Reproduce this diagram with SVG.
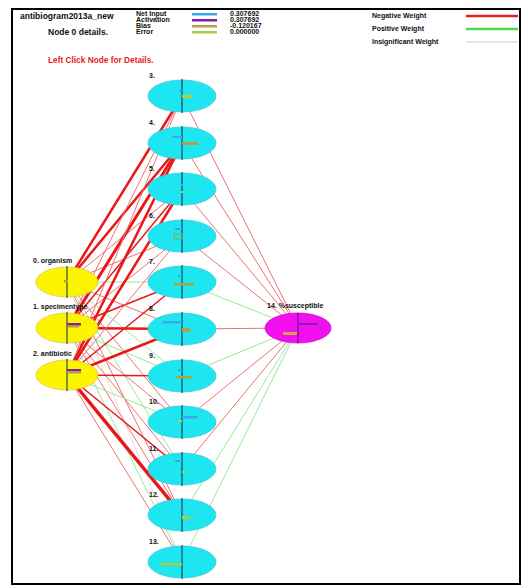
<svg xmlns="http://www.w3.org/2000/svg" width="524" height="587" viewBox="0 0 524 587">
<style>
text{font-family:"Liberation Sans",Arial,sans-serif;fill:#111}
.hd{font-size:8.5px;font-weight:bold}
.lb{font-size:7px;font-weight:bold}
.neg{stroke:#ee7070;stroke-width:1;fill:none}
.nk{stroke:#e81818;fill:none}
.pos{stroke:#9ae89a;stroke-width:1;fill:none}
.ins{stroke:#f2dcdc;stroke-width:1;fill:none}
.inp{fill:#fbf500;stroke:#e8c040;stroke-width:0.8}
.hid{fill:#1ee6f0;stroke:#40c8d8;stroke-width:0.8}
.out{fill:#f010f0;stroke:#d000d0;stroke-width:0.8}
.ax{stroke:#0a2a40;stroke-width:1}
.bN{fill:#3aa8e8}.bA{fill:#8a1ca8}.bB{fill:#b0a048}.bE{fill:#a8d040}
</style>
<rect x="0" y="0" width="524" height="587" fill="#fff"/>
<rect x="12" y="9" width="508" height="575" fill="none" stroke="#000" stroke-width="2"/>
<g id="header">
<text class="hd" x="20" y="19">antibiogram2013a_new</text>
<text class="hd" x="48" y="35">Node 0 details.</text>
<text class="lb" x="136" y="16">Net Input</text>
<text class="lb" x="136" y="22">Activation</text>
<text class="lb" x="136" y="28">Bias</text>
<text class="lb" x="136" y="34">Error</text>
<rect class="bN" x="192" y="13" width="25" height="2.5"/>
<rect class="bA" x="192" y="19" width="25" height="2.5"/>
<rect class="bB" x="192" y="25" width="25" height="2.5"/>
<rect class="bE" x="192" y="31" width="25" height="2.5"/>
<text class="lb" x="230" y="16">0.307692</text>
<text class="lb" x="230" y="22">0.307692</text>
<text class="lb" x="230" y="28">-0.120167</text>
<text class="lb" x="230" y="34">0.000000</text>
<text class="lb" x="372" y="18">Negative Weight</text>
<text class="lb" x="372" y="31">Positive Weight</text>
<text class="lb" x="372" y="44">Insignificant Weight</text>
<line x1="466" y1="16" x2="518" y2="16" stroke="#e82020" stroke-width="2.5"/>
<line x1="466" y1="29" x2="518" y2="29" stroke="#50dc50" stroke-width="2.5"/>
<line x1="466" y1="42" x2="518" y2="42" stroke="#f4e0e0" stroke-width="2"/>
<text x="48" y="63" style="font-size:8.3px;font-weight:bold;fill:#e82020">Left Click Node for Details.</text>
</g>
<g id="connectors">
<!-- input 0 (67,282) -->
<line class="nk" stroke-width="2.5" x1="67" y1="282" x2="182" y2="96"/>
<line class="nk" stroke-width="2.5" x1="67" y1="282" x2="182" y2="143"/>
<line class="neg" x1="67" y1="282" x2="182" y2="189"/>
<line class="neg" x1="67" y1="282" x2="182" y2="236"/>
<line class="pos" x1="67" y1="282" x2="182" y2="282"/>
<line class="neg" x1="67" y1="282" x2="182" y2="329"/>
<line class="pos" x1="67" y1="282" x2="182" y2="376"/>
<line class="neg" x1="67" y1="282" x2="182" y2="422"/>
<line class="pos" x1="67" y1="282" x2="182" y2="469"/>
<line class="neg" x1="67" y1="282" x2="182" y2="515"/>
<line class="ins" x1="67" y1="282" x2="182" y2="562"/>
<!-- input 1 (67,328) -->
<line class="neg" x1="67" y1="328" x2="182" y2="96"/>
<line class="nk" stroke-width="3" x1="67" y1="328" x2="182" y2="143"/>
<line class="nk" stroke-width="1.5" x1="67" y1="328" x2="182" y2="189"/>
<line class="neg" x1="67" y1="328" x2="182" y2="236"/>
<line class="nk" stroke-width="1.5" x1="67" y1="328" x2="182" y2="282"/>
<line class="nk" stroke-width="2.5" x1="67" y1="328" x2="182" y2="329"/>
<line class="pos" x1="67" y1="328" x2="182" y2="376"/>
<line class="neg" x1="67" y1="328" x2="182" y2="422"/>
<line class="neg" x1="67" y1="328" x2="182" y2="469"/>
<line class="neg" x1="67" y1="328" x2="182" y2="515"/>
<line class="pos" x1="67" y1="328" x2="182" y2="562"/>
<!-- input 2 (67,375) -->
<line class="neg" x1="67" y1="375" x2="182" y2="96"/>
<line class="nk" stroke-width="2.5" x1="67" y1="375" x2="182" y2="143"/>
<line class="nk" stroke-width="2.5" x1="67" y1="375" x2="182" y2="189"/>
<line class="neg" x1="67" y1="375" x2="182" y2="236"/>
<line class="nk" stroke-width="1.5" x1="67" y1="375" x2="182" y2="282"/>
<line class="nk" stroke-width="2.5" x1="67" y1="375" x2="182" y2="329"/>
<line class="nk" stroke-width="1.5" x1="67" y1="375" x2="182" y2="376"/>
<line class="pos" x1="67" y1="375" x2="182" y2="422"/>
<line class="nk" stroke-width="1.5" x1="67" y1="375" x2="182" y2="469"/>
<line class="nk" stroke-width="3.5" x1="67" y1="375" x2="182" y2="515"/>
<line class="neg" x1="67" y1="375" x2="182" y2="562"/>
<!-- hidden to output (298,328) -->
<line class="neg" x1="182" y1="96" x2="298" y2="328"/>
<line class="neg" x1="182" y1="143" x2="298" y2="328"/>
<line class="neg" x1="182" y1="189" x2="298" y2="328"/>
<line class="neg" x1="182" y1="236" x2="298" y2="328"/>
<line class="pos" x1="182" y1="282" x2="298" y2="328"/>
<line class="neg" x1="182" y1="329" x2="298" y2="328"/>
<line class="pos" x1="182" y1="376" x2="298" y2="328"/>
<line class="neg" x1="182" y1="422" x2="298" y2="328"/>
<line class="neg" x1="182" y1="469" x2="298" y2="328"/>
<line class="pos" x1="182" y1="515" x2="298" y2="328"/>
<line class="pos" x1="182" y1="562" x2="298" y2="328"/>
</g>
<g id="node0"><text class="lb" x="33" y="263">0. organism</text><ellipse class="inp" cx="67" cy="282" rx="31" ry="15"/><line class="ax" x1="67" y1="266" x2="67" y2="298"/><rect class="bB" x="64" y="280" width="4" height="2.5"/></g>
<g id="node1"><text class="lb" x="33" y="309">1. specimentype</text><ellipse class="inp" cx="67" cy="328" rx="31" ry="15"/><line class="ax" x1="67" y1="312" x2="67" y2="344"/><rect class="bA" x="67" y="323" width="14" height="2.5"/><rect class="bB" x="67" y="326" width="12" height="1.5"/></g>
<g id="node2"><text class="lb" x="33" y="356">2. antibiotic</text><ellipse class="inp" cx="67" cy="375" rx="31" ry="15"/><line class="ax" x1="67" y1="359" x2="67" y2="391"/><rect class="bA" x="67" y="369" width="14" height="2"/><rect class="bB" x="67" y="371" width="14" height="2.5"/></g>
<g id="node3"><text class="lb" x="149" y="78">3.</text><ellipse class="hid" cx="182" cy="96" rx="34" ry="16"/><line class="ax" x1="182" y1="79" x2="182" y2="113"/><rect class="bN" x="179" y="90" width="3" height="2"/><rect class="bE" x="182" y="95" width="10" height="3"/></g>
<g id="node4"><text class="lb" x="149" y="125">4.</text><ellipse class="hid" cx="182" cy="143" rx="34" ry="16"/><line class="ax" x1="182" y1="126" x2="182" y2="160"/><rect class="bN" x="172" y="136" width="10" height="2"/><rect class="bB" x="182" y="142" width="16" height="3"/></g>
<g id="node5"><text class="lb" x="149" y="171">5.</text><ellipse class="hid" cx="182" cy="189" rx="34" ry="16"/><line class="ax" x1="182" y1="172" x2="182" y2="206"/><rect class="bN" x="181" y="184" width="2" height="2"/><rect class="bE" x="180" y="191" width="3" height="2"/></g>
<g id="node6"><text class="lb" x="149" y="218">6.</text><ellipse class="hid" cx="182" cy="236" rx="34" ry="16"/><line class="ax" x1="182" y1="219" x2="182" y2="253"/><rect class="bN" x="175" y="228" width="7" height="2"/><rect x="174" y="234" width="8" height="5" fill="none" stroke="#7ab040" stroke-width="1"/></g>
<g id="node7"><text class="lb" x="149" y="264">7.</text><ellipse class="hid" cx="182" cy="282" rx="34" ry="16"/><line class="ax" x1="182" y1="265" x2="182" y2="299"/><rect class="bN" x="178" y="275" width="4" height="2"/><rect class="bB" x="174" y="283" width="20" height="2.5"/></g>
<g id="node8"><text class="lb" x="149" y="311">8.</text><ellipse class="hid" cx="182" cy="329" rx="34" ry="16"/><line class="ax" x1="182" y1="312" x2="182" y2="346"/><rect class="bN" x="162" y="321" width="20" height="2.5"/><rect class="bB" x="182" y="328" width="8" height="4"/></g>
<g id="node9"><text class="lb" x="149" y="358">9.</text><ellipse class="hid" cx="182" cy="376" rx="34" ry="16"/><line class="ax" x1="182" y1="359" x2="182" y2="393"/><rect class="bN" x="178" y="369" width="4" height="2"/><rect class="bB" x="176" y="376" width="16" height="2.5"/></g>
<g id="node10"><text class="lb" x="149" y="404">10.</text><ellipse class="hid" cx="182" cy="422" rx="34" ry="16"/><line class="ax" x1="182" y1="405" x2="182" y2="439"/><rect class="bN" x="182" y="416" width="16" height="2.5"/><rect class="bE" x="178" y="420" width="4" height="2"/></g>
<g id="node11"><text class="lb" x="149" y="451">11.</text><ellipse class="hid" cx="182" cy="469" rx="34" ry="16"/><line class="ax" x1="182" y1="452" x2="182" y2="486"/><rect class="bN" x="175" y="460" width="7" height="2"/><rect class="bE" x="182" y="471" width="3" height="2"/></g>
<g id="node12"><text class="lb" x="149" y="497">12.</text><ellipse class="hid" cx="182" cy="515" rx="34" ry="16"/><line class="ax" x1="182" y1="498" x2="182" y2="532"/><rect class="bN" x="180" y="509" width="2" height="2"/><rect class="bE" x="182" y="516" width="8" height="3"/></g>
<g id="node13"><text class="lb" x="149" y="544">13.</text><ellipse class="hid" cx="182" cy="562" rx="34" ry="16"/><line class="ax" x1="182" y1="545" x2="182" y2="579"/><rect class="bN" x="180" y="555" width="2" height="2"/><rect class="bE" x="160" y="563" width="22" height="2.5"/></g>
<g id="node14"><text class="lb" x="267" y="308">14. %susceptible</text><ellipse class="out" cx="298" cy="328" rx="33" ry="15"/><line x1="298" y1="313" x2="298" y2="343" stroke="#5a0a6a" stroke-width="1"/><rect class="bA" x="298" y="323" width="20" height="2"/><rect x="283" y="332" width="14" height="3" fill="#d8a040"/></g>
</svg>
